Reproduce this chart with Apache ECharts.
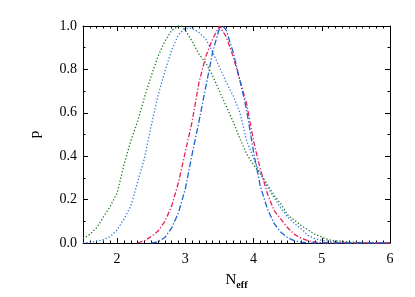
<!DOCTYPE html>
<html><head><meta charset="utf-8">
<script src="https://cdn.jsdelivr.net/npm/echarts@6/dist/echarts.min.js"></script>
<style>html,body{margin:0;padding:0;background:#fff}#c{width:415px;height:297px}</style>
</head><body><div id="c"></div>
<script>
// Data
var greenX = [1.5,1.6,1.7,1.8,1.9,2.0,2.1,2.2,2.3,2.4,2.5,2.6,2.7,2.8,2.9,2.95,3.0,3.1,3.2,3.3,3.4,3.5,3.6,3.7,3.8,3.9,4.0,4.1,4.2,4.3,4.4,4.5,4.6,4.7,4.8,4.9,5.0,5.1,5.2,5.4,5.6,6.0];
var greenP = [0.02,0.04,0.07,0.12,0.17,0.23,0.36,0.47,0.56,0.67,0.77,0.86,0.93,0.98,1.0,1.0,0.98,0.93,0.87,0.83,0.77,0.70,0.63,0.56,0.48,0.41,0.36,0.32,0.27,0.22,0.18,0.13,0.105,0.08,0.06,0.04,0.028,0.015,0.01,0.005,0.002,0.0];

var blueDotX = [1.5,1.6,1.7,1.8,1.9,2.0,2.1,2.2,2.3,2.4,2.5,2.6,2.7,2.8,2.9,3.0,3.1,3.2,3.3,3.4,3.5,3.6,3.7,3.8,3.9,4.0,4.1,4.2,4.3,4.4,4.5,4.6,4.7,4.8,4.9,5.0,5.2,5.4,5.6,6.0];
var blueDotP = [0.0,0.003,0.008,0.015,0.03,0.06,0.11,0.17,0.28,0.39,0.54,0.68,0.79,0.89,0.96,0.99,0.99,0.97,0.94,0.88,0.81,0.74,0.68,0.60,0.47,0.39,0.32,0.26,0.21,0.16,0.12,0.09,0.065,0.035,0.02,0.012,0.005,0.002,0.001,0.0];

var redX = [2.3,2.4,2.5,2.6,2.7,2.8,2.9,3.0,3.1,3.2,3.3,3.4,3.5,3.6,3.7,3.8,3.9,4.0,4.1,4.2,4.3,4.4,4.5,4.6,4.7,4.8,4.9,5.0,5.5,6.0];
var redP = [0.0,0.01,0.03,0.055,0.10,0.17,0.28,0.42,0.56,0.74,0.86,0.94,1.0,0.95,0.86,0.75,0.64,0.47,0.34,0.23,0.15,0.11,0.07,0.04,0.022,0.01,0.004,0.001,0.0,0.0];

var blueDashX = [2.5,2.6,2.7,2.8,2.9,3.0,3.1,3.2,3.3,3.4,3.5,3.55,3.6,3.7,3.8,3.9,4.0,4.1,4.2,4.3,4.4,4.5,4.6,4.7,4.8,4.9,5.5,6.0];
var blueDashP = [0.0,0.005,0.025,0.07,0.14,0.25,0.41,0.56,0.72,0.88,0.99,1.0,0.98,0.88,0.75,0.61,0.42,0.26,0.16,0.09,0.05,0.025,0.01,0.004,0.001,0.0,0.0,0.0];

var xMajor = [2,3,4,5,6];
var xMinor = [];
for (var i = 15; i <= 60; i++) { if (i % 10 !== 0) xMinor.push(i / 10); }

function pairs(xs, ys) { return xs.map(function (x, i) { return [x, ys[i]]; }); }

var serif = 'Liberation Serif';
var chart = echarts.init(document.getElementById('c'), null, {renderer: 'canvas'});
var lineBlack = {show: true, lineStyle: {color: '#000', width: 1}};

function xAx(pos, major, showLabel, showLine, name) {
  var a = {
    type: 'value', position: pos, min: 1.5, max: 6,
    axisLine: showLine ? lineBlack : {show: false},
    axisTick: {show: true, inside: true, length: major ? 5 : 2.5, customValues: major ? xMajor : xMinor, lineStyle: {color: '#000', width: 1}},
    axisLabel: showLabel ? {show: true, customValues: xMajor, color: '#000', fontFamily: serif, fontSize: 14, margin: 9} : {show: false},
    splitLine: {show: false}
  };
  if (name) {
    a.name = '{n|N}{s|eff}';
    a.nameLocation = 'middle';
    a.nameGap = 27;
    a.nameTextStyle = {
      rich: {
        n: {fontFamily: serif, fontSize: 15, color: '#000', lineHeight: 20, verticalAlign: 'middle'},
        s: {fontFamily: serif, fontSize: 10, fontWeight: 'bold', color: '#000', lineHeight: 20, verticalAlign: 'bottom'}
      }
    };
  }
  return a;
}
function yAx(pos, showLabel) {
  var a = {
    type: 'value', position: pos, min: 0, max: 1, interval: 0.2,
    axisLine: lineBlack,
    axisTick: {show: true, inside: true, length: 5, lineStyle: {color: '#000', width: 1}},
    minorTick: {show: true, splitNumber: 2, length: 2.5, lineStyle: {color: '#000', width: 1}},
    axisLabel: showLabel ? {show: true, color: '#000', fontFamily: serif, fontSize: 14, margin: 6,
      formatter: function (v) { return v.toFixed(1); }} : {show: false},
    splitLine: {show: false}, minorSplitLine: {show: false}
  };
  if (showLabel) {
    a.name = 'p'; a.nameLocation = 'middle'; a.nameGap = 40; a.nameRotate = 90;
    a.nameTextStyle = {fontFamily: serif, fontSize: 15, color: '#000'};
  }
  return a;
}

chart.setOption({
  animation: false,
  backgroundColor: '#fff',
  grid: {left: 83, right: 25, top: 26, bottom: 54, containLabel: false},
  xAxis: [xAx('bottom', true, true, true, true), xAx('bottom', false, false, false), xAx('top', true, false, true), xAx('top', false, false, false)],
  yAxis: [yAx('left', true), yAx('right', false)],
  series: [
    {type: 'line', data: pairs(greenX, greenP), showSymbol: false, smooth: false,
     lineStyle: {color: '#1f7a1f', width: 1.3, type: [1.3, 2]}},
    {type: 'line', data: pairs(blueDotX, blueDotP), showSymbol: false,
     lineStyle: {color: '#3478e0', width: 1.3, type: [1.3, 2]}},
    {type: 'line', data: pairs(redX, redP), showSymbol: false,
     lineStyle: {color: '#e8205a', width: 1.3, type: [5, 2, 1.3, 2]}},
    {type: 'line', data: pairs(blueDashX, blueDashP), showSymbol: false,
     lineStyle: {color: '#1f62d4', width: 1.3, type: [6, 2, 1.3, 2]}}
  ]
});
</script></body></html>
